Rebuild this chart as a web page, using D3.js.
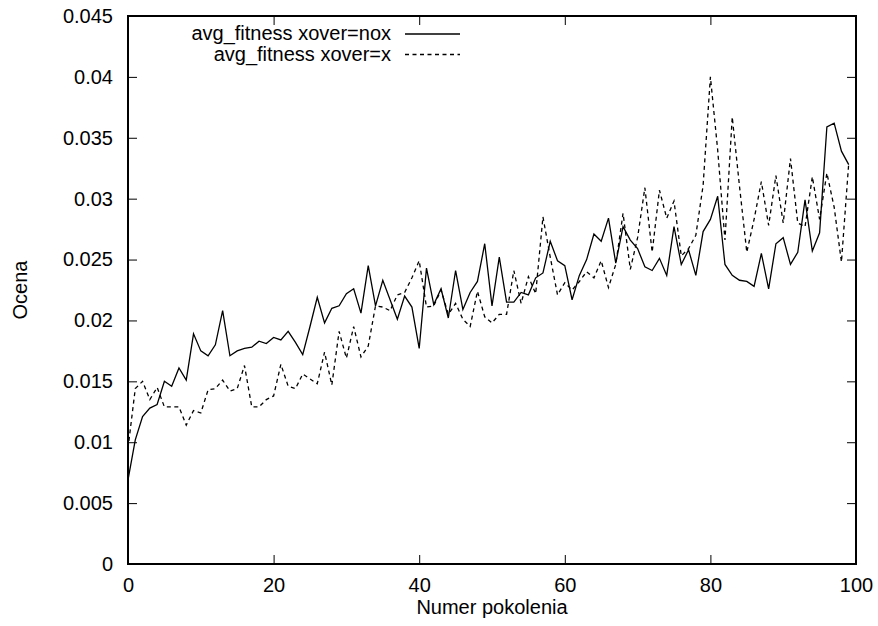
<!DOCTYPE html>
<html>
<head>
<meta charset="utf-8">
<script src="https://cdn.jsdelivr.net/npm/d3@7"></script>
<style>
  body { margin: 0; background: #fff; }
  text { font-family: "Liberation Sans", Arial, sans-serif; font-size: 20px; fill: #000; }
</style>
</head>
<body>
<div id="chart"></div>
<script>
// avg fitness per generation, two crossover settings

const svgWidth = 878
const svgHeight = 626

// generation numbers 0..99
const generations = d3.range(0, 100)

// xover=nox (solid)
const fitnessNox = [
  0.0069, 0.0102, 0.0121, 0.0128, 0.0131, 0.0150, 0.0146, 0.0161, 0.0151, 0.0189,
  0.0175, 0.0171, 0.0180, 0.0208, 0.0171, 0.0175, 0.0177, 0.0178, 0.0183, 0.0181,
  0.0186, 0.0184, 0.0191, 0.0182, 0.0172, 0.0195, 0.0219, 0.0198, 0.0210, 0.0212,
  0.0222, 0.0226, 0.0206, 0.0245, 0.0212, 0.0233, 0.0217, 0.0201, 0.0220, 0.0211,
  0.0177, 0.0243, 0.0213, 0.0226, 0.0202, 0.0241, 0.0209, 0.0223, 0.0232, 0.0263,
  0.0212, 0.0252, 0.0215, 0.0215, 0.0223, 0.0221, 0.0235, 0.0239, 0.0265, 0.0249,
  0.0245, 0.0217, 0.0237, 0.0250, 0.0271, 0.0265, 0.0284, 0.0247, 0.0277, 0.0266,
  0.0259, 0.0244, 0.0241, 0.0251, 0.0237, 0.0277, 0.0246, 0.0258, 0.0237, 0.0273,
  0.0283, 0.0302, 0.0246, 0.0237, 0.0233, 0.0232, 0.0228, 0.0255, 0.0226, 0.0263,
  0.0268, 0.0246, 0.0256, 0.0299, 0.0257, 0.0272, 0.0359, 0.0362, 0.0339, 0.0328
]

// xover=x (dashed)
const fitnessX = [
  0.0095, 0.0144, 0.0150, 0.0135, 0.0145, 0.0129, 0.0129, 0.0129, 0.0114, 0.0126,
  0.0124, 0.0143, 0.0144, 0.0151, 0.0142, 0.0144, 0.0163, 0.0129, 0.0129, 0.0135,
  0.0138, 0.0164, 0.0146, 0.0144, 0.0156, 0.0152, 0.0148, 0.0174, 0.0147, 0.0191,
  0.0169, 0.0195, 0.0170, 0.0179, 0.0212, 0.0211, 0.0208, 0.0221, 0.0223, 0.0235,
  0.0249, 0.0211, 0.0212, 0.0225, 0.0205, 0.0214, 0.0201, 0.0195, 0.0224, 0.0203,
  0.0198, 0.0205, 0.0205, 0.0241, 0.0214, 0.0236, 0.0222, 0.0285, 0.0252, 0.0221,
  0.0231, 0.0225, 0.0232, 0.0240, 0.0235, 0.0249, 0.0227, 0.0246, 0.0288, 0.0242,
  0.0268, 0.0309, 0.0256, 0.0307, 0.0284, 0.0298, 0.0253, 0.0259, 0.0270, 0.0311,
  0.0400, 0.0340, 0.0266, 0.0367, 0.0310, 0.0256, 0.0283, 0.0314, 0.0278, 0.0319,
  0.0280, 0.0333, 0.0280, 0.0277, 0.0318, 0.0283, 0.0321, 0.0293, 0.0248, 0.0329
]

const xTicks = [0, 20, 40, 60, 80, 100]
const yTicks = [0, 0.005, 0.01, 0.015, 0.02, 0.025, 0.03, 0.035, 0.04, 0.045]
const seriesNames = ["avg_fitness xover=nox", "avg_fitness xover=x"]

const margin = {top: 16, right: 22, bottom: 62, left: 128}
const w = svgWidth - margin.left - margin.right
const h = svgHeight - margin.top - margin.bottom

const svg = d3.select("#chart")
  .append("svg")
  .attr("width", svgWidth)
  .attr("height", svgHeight)

const g = svg.append("g")
  .attr("transform", "translate(" + margin.left + "," + margin.top + ")")

const x = d3.scaleLinear().domain([0, 100]).range([0, w])
const y = d3.scaleLinear().domain([0, 0.045]).range([h, 0])

// gnuplot style: ticks point inwards, mirrored on top/right
const tickLen = 9
function styleAxis(sel) {
  sel.select(".domain").remove()
  sel.selectAll(".tick line").attr("stroke", "#000").attr("stroke-width", 1)
}

g.append("g")
  .attr("transform", "translate(0," + h + ")")
  .call(d3.axisBottom(x).tickValues(xTicks).tickSize(-tickLen).tickPadding(14))
  .call(styleAxis)

g.append("g")
  .call(d3.axisTop(x).tickValues(xTicks).tickSize(-tickLen).tickFormat(""))
  .call(styleAxis)

g.append("g")
  .call(d3.axisLeft(y).tickValues(yTicks).tickSize(-tickLen).tickPadding(15).tickFormat(d3.format("")))
  .call(styleAxis)

g.append("g")
  .attr("transform", "translate(" + w + ",0)")
  .call(d3.axisRight(y).tickValues(yTicks).tickSize(-tickLen).tickFormat(""))
  .call(styleAxis)

g.selectAll(".tick text")
  .attr("font-family", "Liberation Sans, Arial, sans-serif")
  .attr("font-size", 20)
  .attr("fill", "#000")

// skip end ticks that sit on the frame corners
g.selectAll(".tick line").filter(d => d === 0 || d === 100 || d === 0.045).remove()

// frame
g.append("rect")
  .attr("width", w)
  .attr("height", h)
  .attr("fill", "none")
  .attr("stroke", "#000")
  .attr("stroke-width", 2)

const line = d3.line()
  .x((d, i) => x(generations[i]))
  .y(d => y(d))

g.append("path")
  .datum(fitnessNox)
  .attr("d", line)
  .attr("fill", "none")
  .attr("stroke", "#000")
  .attr("stroke-width", 1.3)

g.append("path")
  .datum(fitnessX)
  .attr("d", line)
  .attr("fill", "none")
  .attr("stroke", "#000")
  .attr("stroke-width", 1.3)
  .attr("stroke-dasharray", "4,3.5")

// legend
const legendRows = [
  {name: seriesNames[0], dash: null, ty: 40, ly: 34},
  {name: seriesNames[1], dash: "4,3.5", ty: 61, ly: 54.5}
]
legendRows.forEach(r => {
  svg.append("text")
    .attr("x", 391)
    .attr("y", r.ty)
    .attr("text-anchor", "end")
    .attr("font-size", 19.5)
    .text(r.name)
  svg.append("line")
    .attr("x1", 405).attr("x2", 460)
    .attr("y1", r.ly).attr("y2", r.ly)
    .attr("stroke", "#000")
    .attr("stroke-width", 1.3)
    .attr("stroke-dasharray", r.dash)
})

// axis titles
svg.append("text")
  .attr("x", margin.left + w / 2)
  .attr("y", 614)
  .attr("text-anchor", "middle")
  .text("Numer pokolenia")

svg.append("text")
  .attr("transform", "translate(27,290) rotate(-90)")
  .attr("text-anchor", "middle")
  .text("Ocena")
</script>
</body>
</html>
